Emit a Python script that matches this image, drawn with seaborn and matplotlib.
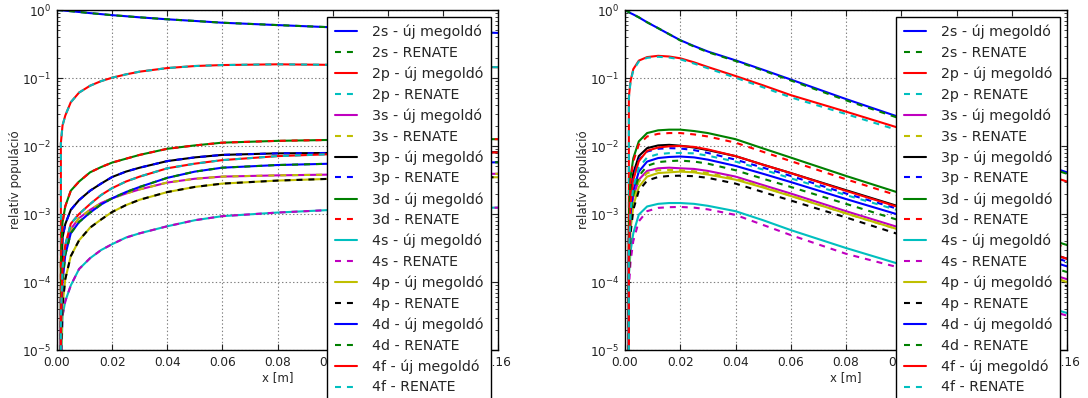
import matplotlib
matplotlib.use("Agg")
import matplotlib.pyplot as plt
import matplotlib.ticker as mticker
import pandas as pd
import seaborn as sns

# Shared axial grid [m]
x_m = [0, 0.0012, 0.0014, 0.002, 0.003, 0.005, 0.008, 0.012, 0.016, 0.02,
       0.025, 0.03, 0.04, 0.05, 0.06, 0.08, 0.10, 0.12, 0.14, 0.16]

levels = ["2s", "2p", "3s", "3p", "3d", "4s", "4p", "4d", "4f"]

# Left panel: relative populations (new solver and RENATE coincide)
left_2s = [1.0, 0.99, 0.99, 0.985, 0.977, 0.96, 0.935, 0.90, 0.87, 0.84,
           0.81, 0.78, 0.73, 0.69, 0.65, 0.60, 0.556, 0.52, 0.49, 0.46]
left_2p = [0, 0, 0.011, 0.020, 0.028, 0.044, 0.061, 0.077, 0.090, 0.101,
           0.113, 0.124, 0.140, 0.150, 0.155, 0.159, 0.156, 0.152, 0.148, 0.144]
left_3s = [0, 0, 3e-5, 1.6e-4, 3.2e-4, 6.0e-4, 8.7e-4, 1.15e-3, 1.45e-3, 1.7e-3,
           2.0e-3, 2.3e-3, 2.9e-3, 3.3e-3, 3.55e-3, 3.7e-3, 3.8e-3, 3.85e-3, 3.9e-3, 3.9e-3]
left_3p = [0, 0, 5e-5, 4.5e-4, 7.1e-4, 1.15e-3, 1.6e-3, 2.2e-3, 2.8e-3, 3.5e-3,
           4.2e-3, 4.8e-3, 6.0e-3, 6.8e-3, 7.4e-3, 7.8e-3, 7.9e-3, 8.0e-3, 8.1e-3, 8.1e-3]
left_3d = [0, 0, 2e-4, 7.5e-4, 1.3e-3, 2.2e-3, 3.0e-3, 4.1e-3, 4.9e-3, 5.7e-3,
           6.5e-3, 7.4e-3, 9.1e-3, 1.02e-2, 1.12e-2, 1.19e-2, 1.23e-2, 1.245e-2, 1.255e-2, 1.26e-2]
left_4s = [0, 0, 4e-6, 3.2e-5, 5.2e-5, 8.9e-5, 1.55e-4, 2.24e-4, 2.95e-4, 3.6e-4,
           4.5e-4, 5.2e-4, 6.6e-4, 8.1e-4, 9.3e-4, 1.05e-3, 1.15e-3, 1.2e-3, 1.22e-3, 1.24e-3]
left_4p = [0, 0, 8e-6, 4.5e-5, 1.1e-4, 2.4e-4, 4.1e-4, 6.3e-4, 8.3e-4, 1.07e-3,
           1.35e-3, 1.62e-3, 2.1e-3, 2.5e-3, 2.8e-3, 3.1e-3, 3.3e-3, 3.4e-3, 3.45e-3, 3.47e-3]
left_4d = [0, 0, 2e-5, 1.0e-4, 2.5e-4, 5.2e-4, 7.6e-4, 1.05e-3, 1.38e-3, 1.7e-3,
           2.1e-3, 2.5e-3, 3.4e-3, 4.2e-3, 4.8e-3, 5.25e-3, 5.5e-3, 5.6e-3, 5.7e-3, 5.75e-3]
left_4f = [0, 0, 3e-5, 1.6e-4, 3.5e-4, 7.2e-4, 1.0e-3, 1.4e-3, 1.9e-3, 2.4e-3,
           3.0e-3, 3.55e-3, 4.7e-3, 5.5e-3, 6.2e-3, 7.1e-3, 7.6e-3, 7.8e-3, 7.95e-3, 8.05e-3]

# Right panel: new solver ("új megoldó")
right_new_2s = [1.0, 0.94, 0.93, 0.90, 0.86, 0.78, 0.66, 0.54, 0.44, 0.36,
                0.295, 0.245, 0.182, 0.132, 0.095, 0.049, 0.026, 0.014, 0.0076, 0.0041]
right_new_2p = [0, 0, 0.053, 0.09, 0.135, 0.18, 0.203, 0.212, 0.207, 0.195,
                0.17, 0.145, 0.107, 0.078, 0.056, 0.032, 0.018, 0.010, 0.0055, 0.003]
right_new_3s = [0, 0, 2.4e-4, 9.5e-4, 1.8e-3, 3.2e-3, 4.3e-3, 4.7e-3, 4.8e-3, 4.7e-3,
                4.6e-3, 4.3e-3, 3.55e-3, 2.66e-3, 2.0e-3, 1.1e-3, 6.2e-4, 3.5e-4, 1.95e-4, 1.1e-4]
right_new_3p = [0, 0, 5.1e-4, 2.04e-3, 3.98e-3, 7.1e-3, 9.3e-3, 1.02e-2, 1.04e-2, 1.01e-2,
                9.5e-3, 8.7e-3, 7.1e-3, 5.3e-3, 4.0e-3, 2.24e-3, 1.26e-3, 7.1e-4, 4.0e-4, 2.2e-4]
right_new_3d = [0, 0, 8.7e-4, 3.47e-3, 6.6e-3, 1.17e-2, 1.55e-2, 1.70e-2, 1.74e-2, 1.74e-2,
                1.66e-2, 1.55e-2, 1.26e-2, 9.2e-3, 6.76e-3, 3.63e-3, 2.0e-3, 1.12e-3, 6.3e-4, 3.5e-4]
right_new_4s = [0, 0, 1.26e-4, 2.8e-4, 5.2e-4, 9.8e-4, 1.29e-3, 1.41e-3, 1.45e-3, 1.45e-3,
                1.41e-3, 1.32e-3, 1.1e-3, 8.1e-4, 5.8e-4, 3.16e-4, 1.8e-4, 1.05e-4, 6.0e-5, 3.5e-5]
right_new_4p = [0, 0, 1.3e-4, 5.9e-4, 1.32e-3, 2.5e-3, 3.55e-3, 4.0e-3, 4.1e-3, 4.2e-3,
                4.1e-3, 3.8e-3, 3.2e-3, 2.45e-3, 1.84e-3, 1.02e-3, 5.75e-4, 3.2e-4, 1.8e-4, 1.0e-4]
right_new_4d = [0, 0, 2.2e-4, 1.0e-3, 2.2e-3, 4.2e-3, 5.9e-3, 6.65e-3, 6.9e-3, 7.0e-3,
                6.8e-3, 6.3e-3, 5.1e-3, 3.9e-3, 2.95e-3, 1.66e-3, 9.5e-4, 5.4e-4, 3.0e-4, 1.7e-4]
right_new_4f = [0, 0, 3.2e-4, 1.41e-3, 3.16e-3, 6.0e-3, 8.5e-3, 9.5e-3, 9.9e-3, 1.0e-2,
                9.7e-3, 8.9e-3, 7.1e-3, 5.3e-3, 4.0e-3, 2.19e-3, 1.23e-3, 6.9e-4, 3.9e-4, 2.2e-4]

# Right panel: RENATE
right_ren_2s = [1.0, 0.94, 0.93, 0.90, 0.86, 0.78, 0.66, 0.54, 0.44, 0.357,
                0.29, 0.24, 0.178, 0.129, 0.092, 0.047, 0.025, 0.0133, 0.0072, 0.0039]
right_ren_2p = [0, 0, 0.05, 0.088, 0.13, 0.175, 0.198, 0.205, 0.200, 0.188,
                0.163, 0.139, 0.101, 0.073, 0.052, 0.0295, 0.0165, 0.009, 0.005, 0.0027]
right_ren_3s = [0, 0, 2.2e-4, 8.9e-4, 1.7e-3, 3.0e-3, 4.0e-3, 4.4e-3, 4.45e-3, 4.4e-3,
                4.25e-3, 4.0e-3, 3.3e-3, 2.5e-3, 1.86e-3, 1.02e-3, 5.75e-4, 3.2e-4, 1.8e-4, 1.0e-4]
right_ren_3p = [0, 0, 4.4e-4, 1.78e-3, 3.47e-3, 6.3e-3, 8.3e-3, 9.1e-3, 9.3e-3, 9.2e-3,
                8.7e-3, 7.9e-3, 6.3e-3, 4.8e-3, 3.63e-3, 2.0e-3, 1.15e-3, 6.5e-4, 3.6e-4, 2.0e-4]
right_ren_3d = [0, 0, 7.8e-4, 3.1e-3, 5.9e-3, 1.05e-2, 1.38e-2, 1.51e-2, 1.55e-2, 1.55e-2,
                1.48e-2, 1.38e-2, 1.12e-2, 8.2e-3, 6.0e-3, 3.24e-3, 1.8e-3, 1.0e-3, 5.6e-4, 3.2e-4]
right_ren_4s = [0, 0, 8e-5, 2.0e-4, 4.0e-4, 7.8e-4, 1.1e-3, 1.23e-3, 1.26e-3, 1.27e-3,
                1.24e-3, 1.17e-3, 9.7e-4, 6.9e-4, 4.9e-4, 2.6e-4, 1.6e-4, 9.3e-5, 5.5e-5, 3.2e-5]
right_ren_4p = [0, 0, 1.15e-4, 5.1e-4, 1.15e-3, 2.2e-3, 3.1e-3, 3.5e-3, 3.63e-3, 3.66e-3,
                3.6e-3, 3.4e-3, 2.8e-3, 2.1e-3, 1.58e-3, 8.9e-4, 4.9e-4, 2.75e-4, 1.55e-4, 8.7e-5]
right_ren_4d = [0, 0, 1.9e-4, 8.5e-4, 1.9e-3, 3.6e-3, 5.1e-3, 5.8e-3, 6.0e-3, 6.1e-3,
                5.9e-3, 5.5e-3, 4.4e-3, 3.3e-3, 2.5e-3, 1.41e-3, 7.9e-4, 4.5e-4, 2.5e-4, 1.4e-4]
right_ren_4f = [0, 0, 2.5e-4, 1.12e-3, 2.5e-3, 4.8e-3, 6.8e-3, 7.6e-3, 7.85e-3, 7.9e-3,
                7.8e-3, 7.2e-3, 5.9e-3, 4.5e-3, 3.35e-3, 1.9e-3, 1.1e-3, 6.2e-4, 3.5e-4, 1.95e-4]

left_data = {"2s": left_2s, "2p": left_2p, "3s": left_3s, "3p": left_3p, "3d": left_3d,
             "4s": left_4s, "4p": left_4p, "4d": left_4d, "4f": left_4f}
right_new = {"2s": right_new_2s, "2p": right_new_2p, "3s": right_new_3s, "3p": right_new_3p,
             "3d": right_new_3d, "4s": right_new_4s, "4p": right_new_4p, "4d": right_new_4d,
             "4f": right_new_4f}
right_ren = {"2s": right_ren_2s, "2p": right_ren_2p, "3s": right_ren_3s, "3p": right_ren_3p,
             "3d": right_ren_3d, "4s": right_ren_4s, "4p": right_ren_4p, "4d": right_ren_4d,
             "4f": right_ren_4f}

# classic colour cycle: b g r c m y k
cycle = ["#0000ff", "#008000", "#ff0000", "#00bfbf", "#bf00bf", "#bfbf00", "#000000"]

sns.set_style("ticks")
plt.rcParams.update({
    "font.family": ["DejaVu Sans"],
    "axes.linewidth": 1.0,
    "axes.edgecolor": "black",
    "xtick.direction": "in",
    "ytick.direction": "in",
    "xtick.top": True,
    "ytick.right": True,
    "xtick.major.size": 4,
    "ytick.major.size": 4,
    "ytick.minor.size": 2,
    "xtick.major.width": 0.8,
    "ytick.major.width": 0.8,
    "ytick.minor.width": 0.6,
    "xtick.major.pad": 4,
    "ytick.major.pad": 4,
    "xtick.labelsize": 8.7,
    "ytick.labelsize": 8.7,
    "xtick.color": "#222222",
    "ytick.color": "#222222",
    "lines.scale_dashes": False,
})

fig = plt.figure(figsize=(10.88, 3.98), dpi=100)
ax_l = fig.add_axes([57 / 1088, 1 - 350 / 398, 441 / 1088, 340 / 398])
ax_r = fig.add_axes([625 / 1088, 1 - 350 / 398, 442 / 1088, 340 / 398])

dash = (0, (4.3, 4.3))


def draw(ax, new_vals, ren_vals):
    for i, lev in enumerate(levels):
        df_new = pd.DataFrame({"x": x_m, "y": new_vals[lev]})
        df_ren = pd.DataFrame({"x": x_m, "y": ren_vals[lev]})
        sns.lineplot(data=df_new, x="x", y="y", ax=ax, color=cycle[(2 * i) % 7],
                     linewidth=1.5, errorbar=None, label=f"{lev} - új megoldó")
        sns.lineplot(data=df_ren, x="x", y="y", ax=ax, color=cycle[(2 * i + 1) % 7],
                     linewidth=1.5, linestyle=dash, errorbar=None,
                     label=f"{lev} - RENATE")
    ax.set_yscale("log")
    ax.set_ylim(1e-5, 1)
    ax.set_xlim(0, 0.16)
    ax.set_xticks([0, 0.02, 0.04, 0.06, 0.08, 0.10, 0.12, 0.14, 0.16])
    ax.xaxis.set_major_formatter(mticker.FormatStrFormatter("%.2f"))
    ax.grid(True, which="major", color="0.5", linestyle=":", linewidth=0.8)
    ax.set_xlabel("x [m]", fontsize=8.5, labelpad=2)
    ax.set_ylabel("relatív populáció", fontsize=8.5, labelpad=0)
    for s in ax.spines.values():
        s.set_visible(True)
        s.set_color("black")


draw(ax_l, left_data, left_data)
draw(ax_r, right_new, right_ren)

for ax, lx in ((ax_l, 327), (ax_r, 896)):
    leg = ax.legend(loc="upper left", bbox_to_anchor=(lx / 1088, 1 - 17 / 398),
                    bbox_transform=fig.transFigure, fontsize=10.2, frameon=True,
                    fancybox=False, shadow=False, framealpha=1, edgecolor="black",
                    borderpad=0.55, labelspacing=0.47, handlelength=1.55,
                    handletextpad=1.05, borderaxespad=0)
    leg.get_frame().set_linewidth(1.0)

fig.savefig("out.png", dpi=100)
